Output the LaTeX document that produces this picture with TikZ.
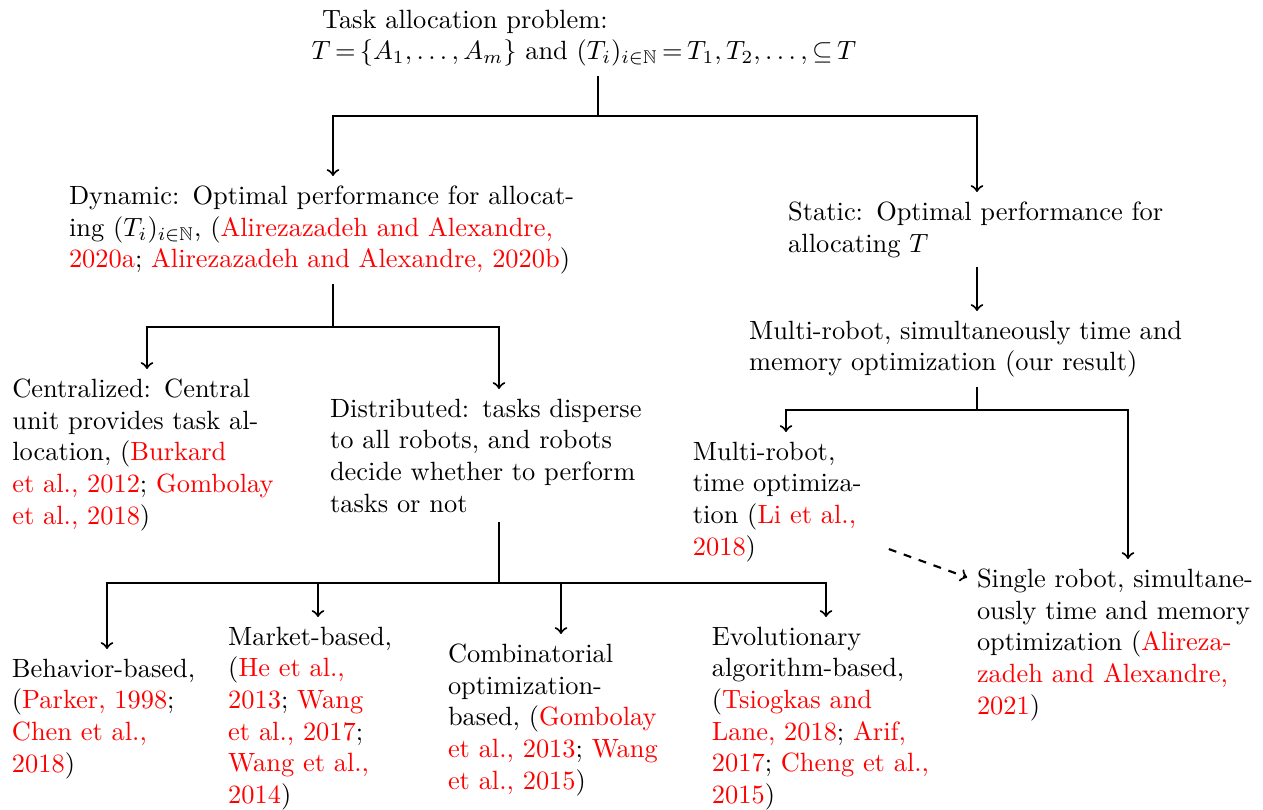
\documentclass[tikz,border=0pt]{standalone}
\usepackage{amsmath}
\usepackage{amssymb}
\usepackage{xcolor}
\usetikzlibrary{positioning,arrows}
\newcommand{\cited}[1]{\textcolor{red}{#1}}
\tikzset{%
task/.style={text width=#1,align=left,inner sep=3.5pt,anchor=north},
branch/.style={draw,thick,->},
link/.style={draw,thick,dashed,->}
}

\begin{document}
\begin{tikzpicture}[x=0.3788pt,y=-0.3788pt]
  \useasboundingbox (0,0) rectangle (1263,810);

  % tree nodes
  \node[task=217pt] (root) at (598,0)
    {\hspace{4pt}Task allocation problem:\\
     \thickmuskip=3mu
     $T = \{A_1,\dots,A_m\}$ and $(T_i)_{i\in\mathbb{N}} = T_1,T_2,\dots,\subseteq T$};
  \node[task=200pt] (dyn) at (333,176)
    {Dynamic: Optimal performance for allocat-\\
     ing $(T_i)_{i\in\mathbb{N}}$, (\cited{Alirezazadeh and Alexandre,}\\
     \cited{2020a}; \cited{Alirezazadeh and Alexandre, 2020b})};
  \node[task=143pt] (stat) at (977,192)
    {Static: Optimal performance for\\ allocating $T$};
  \node[task=172.7pt] (multi) at (977,311)
    {Multi-robot, simultaneously time and\\ memory optimization (our result)};
  \node[task=102pt] (cent) at (147,369)
    {Centralized: Central\\ unit provides task al-\\ location, (\cited{Burkard}\\
     \cited{et al., 2012}; \cited{Gombolay}\\ \cited{et al., 2018})};
  \node[task=128pt] (dist) at (499,389)
    {Distributed: tasks disperse\\ to all robots, and robots\\
     decide whether to perform\\ tasks or not};
  \node[task=70.5pt] (mtime) at (786,432)
    {Multi-robot,\\ time optimiza-\\ tion (\cited{Li et al.,}\\ \cited{2018})};
  \node[task=114.4pt] (single) at (1128,559)
    {Single robot, simultane-\\ ously time and memory\\ optimization (\cited{Alireza-}\\
     \cited{zadeh and Alexandre,}\\ \cited{2021})};
  \node[task=72pt] (beh) at (107,649)
    {Behavior-based,\\ (\cited{Parker, 1998};\\ \cited{Chen et al.,}\\ \cited{2018})};
  \node[task=68pt] (mark) at (318,617)
    {Market-based,\\ (\cited{He et al.,}\\ \cited{2013}; \cited{Wang}\\
     \cited{et al., 2017};\\ \cited{Wang et al.,}\\ \cited{2014})};
  \node[task=85.6pt] (comb) at (561,634)
    {Combinatorial\\ optimization-\\ based, (\cited{Gombolay}\\
     \cited{et al., 2013}; \cited{Wang}\\ \cited{et al., 2015})};
  \node[task=86.4pt] (evo) at (826,617)
    {Evolutionary\\ algorithm-based,\\ (\cited{Tsiogkas and}\\
     \cited{Lane, 2018}; \cited{Arif,}\\ \cited{2017}; \cited{Cheng et al.,}\\ \cited{2015})};

  % bus points
  \coordinate (busA) at (598,116);
  \coordinate (busB) at (333,327);
  \coordinate (busC) at (977,410);
  \coordinate (busD) at (499,583);

  % connectors
  \draw[branch] (root.south) -- (busA) -| (dyn.north);
  \draw[branch] (root.south) -- (busA) -| (stat.north);
  \draw[branch] (dyn.south) -- (busB) -| (cent.north);
  \draw[branch] (dyn.south) -- (busB) -| (dist.north);
  \draw[branch] (stat.south) -- (multi.north);
  \draw[branch] (multi.south) -- (busC) -| (mtime.north);
  \draw[branch] (multi.south) -- (busC) -| (single.north);
  \draw[branch] (dist.south) -- (busD) -| (beh.north);
  \draw[branch] (dist.south) -- (busD) -| (mark.north);
  \draw[branch] (dist.south) -- (busD) -| (comb.north);
  \draw[branch] (dist.south) -- (busD) -| (evo.north);
  \draw[link] ([yshift=8.5pt]mtime.south east) -- ([yshift=-7pt]single.north west);

\end{tikzpicture}
\end{document}
